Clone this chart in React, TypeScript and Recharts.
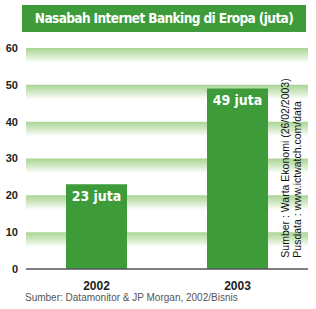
import { BarChart, Bar, XAxis, YAxis, ReferenceArea, LabelList } from "recharts";

const years = ["2002", "2003"];
const nasabah = [23, 49];
const yTicks = [0, 10, 20, 30, 40, 50, 60];

const data = years.map((y, i) => ({ year: y, value: nasabah[i] }));

const GREEN = "#3d9b3a";

export default function App() {
  return (
    <div style={{ position: "absolute", left: 0, top: 0, width: 316, height: 309, background: "#fff", fontFamily: "'Liberation Sans', Arial, sans-serif" }}>
      <div
        style={{
          position: "absolute",
          left: 22,
          top: 5,
          width: 284,
          height: 27,
          background: GREEN,
          color: "#fff",
          fontWeight: 700,
          fontSize: 13.5,
          letterSpacing: -0.6,
          lineHeight: "27px",
          textAlign: "center",
          whiteSpace: "nowrap",
          fontFamily: "'DejaVu Sans Condensed', 'DejaVu Sans', sans-serif",
        }}
      >
        Nasabah Internet Banking di Eropa (juta)
      </div>
      <BarChart width={316} height={309} data={data} margin={{ top: 48, right: 8, left: 0, bottom: 20 }} barSize={61}>
        <defs>
          <linearGradient id="band" x1="0" y1="0" x2="0" y2="1">
            <stop offset="0%" stopColor="#a9d494" />
            <stop offset="55%" stopColor="#d6ebcb" />
            <stop offset="100%" stopColor="#ffffff" />
          </linearGradient>
        </defs>
        {yTicks
          .filter((t) => t > 0)
          .map((t) => (
            <ReferenceArea key={t} y1={t - 4} y2={t} fill="url(#band)" fillOpacity={1} strokeWidth={0} ifOverflow="visible" />
          ))}
        <XAxis
          dataKey="year"
          height={20}
          tickLine={false}
          axisLine={{ stroke: "#555", strokeWidth: 1.5 }}
          tick={{ fontSize: 12, fontWeight: 700, fill: "#222" }}
          tickMargin={6}
        />
        <YAxis
          width={26}
          domain={[0, 60]}
          ticks={yTicks}
          tickLine={false}
          axisLine={false}
          tickSize={0}
          tickMargin={8}
          tick={{ fontSize: 11, fontWeight: 700, fill: "#222" }}
        />
        <Bar dataKey="value" fill={GREEN} isAnimationActive={false}>
          <LabelList
            dataKey="value"
            position="insideTop"
            offset={7}
            formatter={(v: any) => `${v} juta`}
            style={{ fill: "#fff", fontSize: 14, fontWeight: 700, fontFamily: "'DejaVu Sans Condensed', 'DejaVu Sans', sans-serif" }}
          />
        </Bar>
      </BarChart>
      <div
        style={{
          position: "absolute",
          left: 291,
          top: 168,
          transform: "translate(-50%, -50%) rotate(-90deg)",
          whiteSpace: "nowrap",
          fontSize: 10.5,
          lineHeight: "12px",
          color: "#111",
          textAlign: "left",
        }}
      >
        <div>Sumber : Warta Ekonomi (26/02/2003)</div>
        <div>Pusdata : www.ictwatch.com/data</div>
      </div>
      <div style={{ position: "absolute", left: 25, top: 292, fontSize: 10, color: "#555", whiteSpace: "nowrap" }}>
        Sumber: Datamonitor &amp; JP Morgan, 2002/Bisnis
      </div>
    </div>
  );
}
